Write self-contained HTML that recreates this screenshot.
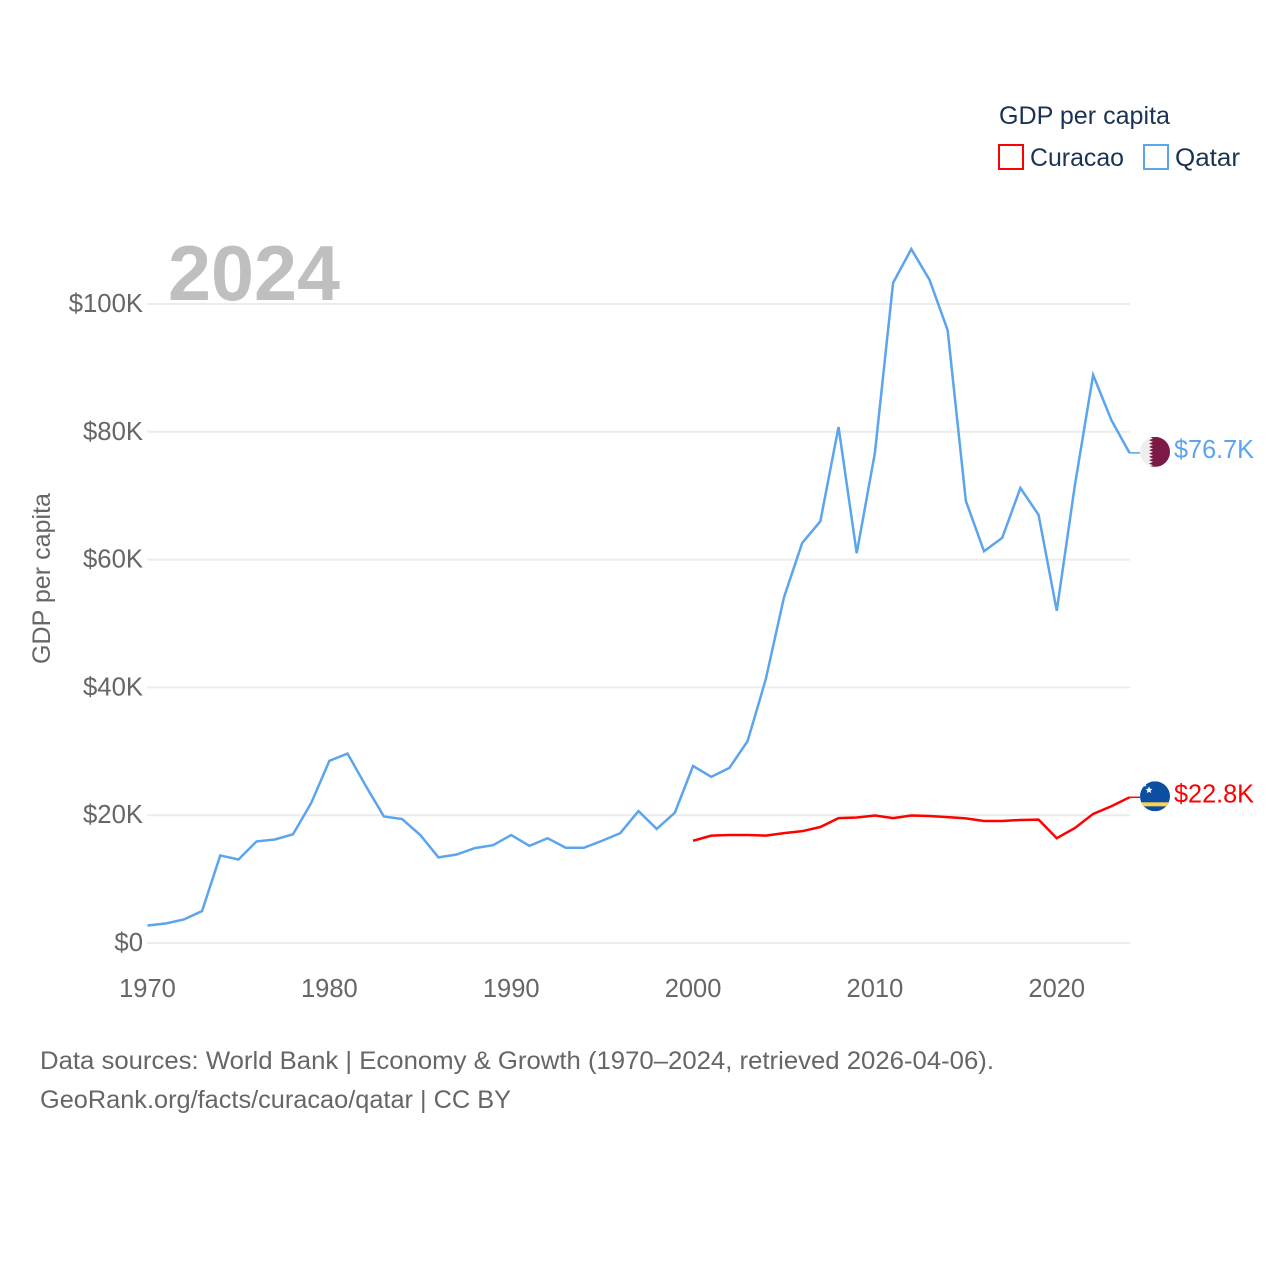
<!DOCTYPE html>
<html lang="en">
<head>
<meta charset="utf-8">
<title>GDP per capita: Curacao vs Qatar</title>
<style>
  html, body { margin: 0; padding: 0; background: #ffffff; }
  svg { display: block; font-family: "Liberation Sans", sans-serif; }
</style>
</head>
<body>
<svg id="chart" xmlns="http://www.w3.org/2000/svg" width="1280" height="1280" viewBox="0 0 1280 1280">
  <defs>
    <clipPath id="flag-clip-qatar"><circle cx="0" cy="0" r="15"></circle></clipPath>
    <clipPath id="flag-clip-curacao"><circle cx="0" cy="0" r="15"></circle></clipPath>
  </defs>
  <rect x="0" y="0" width="1280" height="1280" fill="#ffffff"></rect>

  <g id="grid"></g>
  <g id="y-ticks"></g>
  <g id="x-ticks"></g>

  <text x="168" y="300" font-size="78" font-weight="700" fill="#bfbfbf" textLength="172" lengthAdjust="spacingAndGlyphs">2024</text>

  <text transform="translate(50,578.5) rotate(-90)" text-anchor="middle" font-size="25" fill="#666666" textLength="171" lengthAdjust="spacingAndGlyphs">GDP per capita</text>

  <g id="series"></g>

  <g id="flag-qatar">
    <g clip-path="url(#flag-clip-qatar)">
      <rect x="-15" y="-15" width="30" height="30" fill="#eeeeee"></rect>
      <polygon fill="#7a1a45" points="15,-15 -6,-15 -2,-13.3 -6,-11.7 -2,-10 -6,-8.3 -2,-6.7 -6,-5 -2,-3.3 -6,-1.7 -2,0 -6,1.7 -2,3.3 -6,5 -2,6.7 -6,8.3 -2,10 -6,11.7 -2,13.3 -6,15 15,15"></polygon>
    </g>
  </g>
  <g id="flag-curacao">
    <g clip-path="url(#flag-clip-curacao)">
      <rect x="-15" y="-15" width="30" height="30" fill="#0b4ea2"></rect>
      <rect x="-15" y="6" width="30" height="4" fill="#fbd34f"></rect>
      <polygon fill="#ffffff" points="-6,-10 -5,-7.5 -2.5,-7.3 -4.4,-5.7 -3.8,-3.2 -6,-4.6 -8.2,-3.2 -7.6,-5.7 -9.5,-7.3 -7,-7.5"></polygon>
      <circle cx="-10" cy="-11" r="1.2" fill="#ffffff"></circle>
    </g>
  </g>
  <g id="end-labels"></g>

  <g>
    <text x="999" y="124" font-size="25" fill="#1a3353" textLength="171" lengthAdjust="spacingAndGlyphs">GDP per capita</text>
    <g>
      <rect x="999" y="145" width="24" height="24" fill="#ffffff" stroke="#ff0000" stroke-width="2"></rect>
      <text x="1030" y="166" font-size="25" fill="#1a3353" textLength="94" lengthAdjust="spacingAndGlyphs">Curacao</text>
    </g>
    <g>
      <rect x="1144" y="145" width="24" height="24" fill="#ffffff" stroke="#5ba4ee" stroke-width="2"></rect>
      <text x="1175" y="166" font-size="25" fill="#1a3353" textLength="65" lengthAdjust="spacingAndGlyphs">Qatar</text>
    </g>
  </g>

  <text x="40" y="1069" font-size="25" fill="#666666" textLength="954" lengthAdjust="spacingAndGlyphs">Data sources: World Bank | Economy &amp; Growth (1970–2024, retrieved 2026-04-06).</text>
  <text x="40" y="1108" font-size="25" fill="#666666" textLength="471" lengthAdjust="spacingAndGlyphs">GeoRank.org/facts/curacao/qatar | CC BY</text>
</svg>

<script>
const qatarStartYear = 1970;
const curacaoStartYear = 2000;
const qatarValues = [2.74, 3.05, 3.68, 5.0, 13.7, 13.07, 15.9, 16.2, 17.0, 21.9, 28.5, 29.65, 24.6, 19.8, 19.4, 16.9, 13.4, 13.85, 14.85, 15.3, 16.9, 15.2, 16.4, 14.9, 14.9, 16.0, 17.2, 20.65, 17.85, 20.4, 27.7, 26.0, 27.4, 31.6, 41.3, 54.1, 62.6, 66.0, 80.75, 61.0, 76.7, 103.3, 108.6, 103.8, 95.9, 69.2, 61.3, 63.4, 71.2, 67.0, 52.0, 71.7, 88.9, 81.85, 76.7];
const curacaoValues = [16.0, 16.8, 16.9, 16.9, 16.8, 17.2, 17.5, 18.15, 19.55, 19.65, 19.95, 19.55, 19.95, 19.87, 19.7, 19.5, 19.1, 19.1, 19.25, 19.3, 16.4, 18.0, 20.2, 21.4, 22.8];
const yTickValues = [0, 20, 40, 60, 80, 100];
const yTickLabels = ["$0", "$20K", "$40K", "$60K", "$80K", "$100K"];
const xTickValues = [1970, 1980, 1990, 2000, 2010, 2020];
const xTickLabels = ["1970", "1980", "1990", "2000", "2010", "2020"];
const qatarEndLabel = "$76.7K";
const curacaoEndLabel = "$22.8K";

const NS = "http://www.w3.org/2000/svg";
const xScale = function (year) { return 147.5 + (year - 1970) * (1129.5 - 147.5) / 54; };
const yScale = function (value) { return 943 - value * (943 - 304) / 100; };

function make(tag, parent, props, text) {
  const el = document.createElementNS(NS, tag);
  Object.keys(props).forEach(function (k) { el.setAttribute(k, props[k]); });
  if (text !== undefined) { el.textContent = text; }
  parent.appendChild(el);
  return el;
}

const gridG = document.getElementById("grid");
const yG = document.getElementById("y-ticks");
const xG = document.getElementById("x-ticks");
const seriesG = document.getElementById("series");
const labelsG = document.getElementById("end-labels");

yTickValues.forEach(function (v, i) {
  const line = make("line", gridG, { x1: 147, x2: 1130, y1: yScale(v), y2: yScale(v), stroke: "#ececec", "stroke-width": 2 });
  
  
  const label = make("text", yG, { x: 143, y: yScale(v) + 8, "text-anchor": "end", "font-size": 25.7, fill: "#666666" }, yTickLabels[i]);
  
  
});

xTickValues.forEach(function (v, i) {
  const label = make("text", xG, { x: xScale(v), y: 997, "text-anchor": "middle", "font-size": 25.5, fill: "#666666" }, xTickLabels[i]);
  
  
});

function pathFor(values, startYear) {
  return values.map(function (v, i) {
    return (i === 0 ? "M" : "L") + xScale(startYear + i).toFixed(2) + " " + yScale(v).toFixed(2);
  }).join(" ");
}

const qatarLine = make("path", seriesG, { d: pathFor(qatarValues, qatarStartYear), fill: "none", stroke: "#5ba4ee", "stroke-width": 2.5, "stroke-linejoin": "miter" });



const curacaoLine = make("path", seriesG, { d: pathFor(curacaoValues, curacaoStartYear), fill: "none", stroke: "#ff0000", "stroke-width": 2.5, "stroke-linejoin": "miter" });



const qatarEndY = yScale(qatarValues[qatarValues.length - 1]);
const curacaoEndY = yScale(curacaoValues[curacaoValues.length - 1]);

const qatarConnector = make("line", seriesG, { x1: 1129.5, x2: 1140, y1: qatarEndY, y2: qatarEndY, stroke: "#5ba4ee", "stroke-width": 1.5 });



const curacaoConnector = make("line", seriesG, { x1: 1129.5, x2: 1140, y1: curacaoEndY, y2: curacaoEndY, stroke: "#ff0000", "stroke-width": 1.5 });



document.getElementById("flag-qatar").setAttribute("transform", "translate(1155," + (qatarEndY - 1) + ")");
document.getElementById("flag-curacao").setAttribute("transform", "translate(1155," + (curacaoEndY - 1) + ")");

const qatarLabel = make("text", labelsG, { x: 1174, y: qatarEndY + 5, "font-size": 25.5, fill: "#5ba4ee", textLength: 80, lengthAdjust: "spacingAndGlyphs" }, qatarEndLabel);



const curacaoLabel = make("text", labelsG, { x: 1174, y: curacaoEndY + 5, "font-size": 25.5, fill: "#ff0000", textLength: 80, lengthAdjust: "spacingAndGlyphs" }, curacaoEndLabel);


</script>
</body>
</html>
